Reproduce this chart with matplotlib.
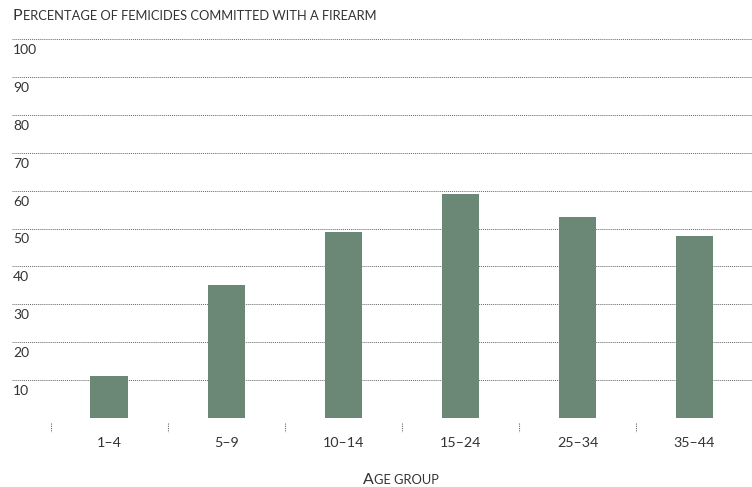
import matplotlib
matplotlib.use("Agg")
import matplotlib.pyplot as plt

ages = ["1–4", "5–9", "10–14", "15–24", "25–34", "35–44"]
pct = [11, 35, 49, 59, 53, 48]
yticks = [10, 20, 30, 40, 50, 60, 70, 80, 90, 100]

bar_color = "#6b8877"
text_color = "#333333"
plt.rcParams["font.family"] = ["Lato", "DejaVu Sans"]

fig = plt.figure(figsize=(7.52, 4.87), dpi=100)
ax = fig.add_axes([12 / 752, 1 - 418 / 487, 1 - 12 / 752, (418 - 39) / 487])

x = list(range(len(ages)))
ax.bar(x, pct, width=0.32, color=bar_color, zorder=3)

ax.set_ylim(0, 100)
ax.set_xlim(-0.83, 5.49)

for v in [0] + yticks:
    ax.axhline(v, color="#666666", lw=0.7, ls=(0, (1, 1)), zorder=1)
for v in yticks:
    ax.text(0.0015, v - 1.3, str(v), transform=ax.get_yaxis_transform(),
            ha="left", va="top", fontsize=10, color=text_color)

# small dotted ticks between categories
ax.vlines([i - 0.5 for i in x], -1.2, -3.8, colors="#666666", lw=0.8,
          linestyles=(0, (1, 1)), clip_on=False)

ax.set_yticks([])
ax.set_xticks(x)
ax.set_xticklabels(ages, fontsize=10.3, color=text_color)
ax.tick_params(axis="x", length=0, pad=14)
for s in ax.spines.values():
    s.set_visible(False)


def small_caps(fig, xpx, ypx, s, big=11.5, small=9.3, ha="left"):
    # first letter large, the rest as smaller capitals
    r = fig.canvas.get_renderer()
    t1 = fig.text(xpx / 752, 1 - ypx / 487, s[0], fontsize=big, color=text_color,
                  va="baseline", ha="left")
    w1 = t1.get_window_extent(r).width
    t2 = fig.text(0, 1 - ypx / 487, s[1:].upper(), fontsize=small, color=text_color,
                  va="baseline", ha="left")
    w2 = t2.get_window_extent(r).width
    x0 = xpx if ha == "left" else xpx - (w1 + w2) / 2
    t1.set_x(x0 / 752)
    t2.set_x((x0 + w1 + 0.5) / 752)


small_caps(fig, 13, 20, "Percentage of femicides committed with a firearm")
small_caps(fig, 401, 484, "Age group", ha="center")

fig.savefig("out.png", dpi=100)
